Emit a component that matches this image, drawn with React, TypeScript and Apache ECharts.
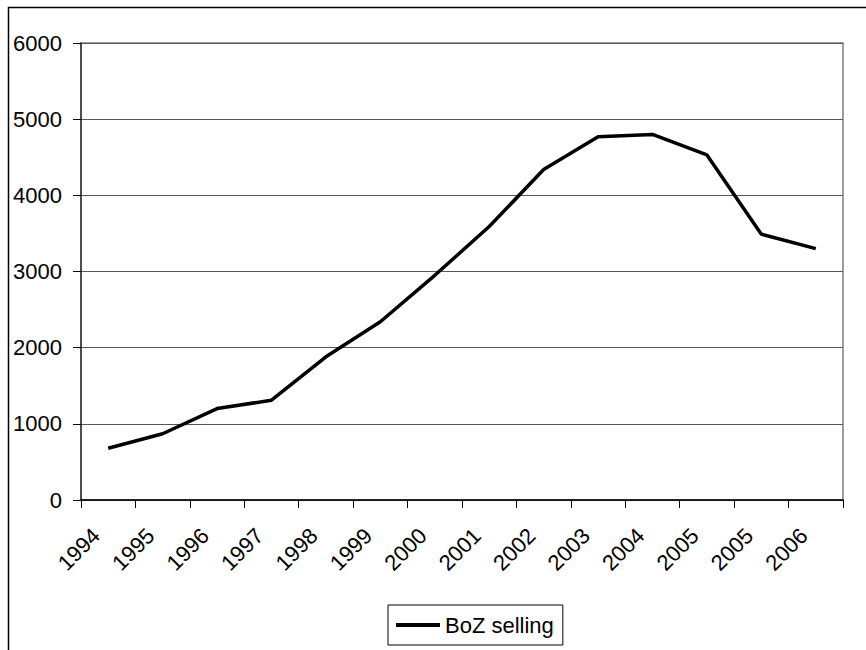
import React, { useEffect, useRef } from "react";
import * as echarts from "echarts";

// Yearly BoZ selling figures
const years = ["1994", "1995", "1996", "1997", "1998", "1999", "2000", "2001", "2002", "2003", "2004", "2005", "2005", "2006"];
const selling = [680, 870, 1200, 1310, 1880, 2340, 2950, 3590, 4340, 4770, 4800, 4530, 3490, 3300];
const seriesName = "BoZ selling";

const FONT = "'Liberation Sans', Arial, sans-serif";

export default function App() {
  const ref = useRef<HTMLDivElement>(null);

  useEffect(() => {
    if (!ref.current) return;
    const chart = echarts.init(ref.current, null, { renderer: "svg" });
    chart.setOption({
      animation: false,
      backgroundColor: "#ffffff",
      textStyle: { fontFamily: FONT },
      grid: {
        left: 81,
        right: 23,
        top: 43,
        bottom: 150,
        show: true,
        borderColor: "#808080",
        borderWidth: 1.5,
        containLabel: false,
      },
      xAxis: {
        type: "category",
        data: years,
        boundaryGap: true,
        axisLine: { lineStyle: { color: "#000", width: 1.5 } },
        axisTick: { show: true, length: 8, lineStyle: { color: "#000" } },
        axisLabel: {
          rotate: 45,
          margin: 20,
          color: "#000",
          fontSize: 22,
          fontFamily: FONT,
          interval: 0,
          // right padding slides each slanted year down-left along its baseline
          padding: [0, 17, 0, 0],
        },
      },
      yAxis: {
        type: "value",
        min: 0,
        max: 6000,
        interval: 1000,
        axisLine: { show: true, lineStyle: { color: "#333", width: 1.5 } },
        axisTick: { show: true, length: 8, lineStyle: { color: "#000" } },
        axisLabel: {
          margin: 19,
          color: "#000",
          fontSize: 22,
          fontFamily: FONT,
          formatter: (v: number) => String(v),
        },
        splitLine: { lineStyle: { color: "#555", width: 1 } },
      },
      legend: {
        left: 388,
        top: 605,
        orient: "horizontal",
        icon: "rect",
        itemWidth: 44,
        itemHeight: 4,
        padding: [9, 9, 9, 8],
        borderColor: "#000",
        borderWidth: 1,
        textStyle: { color: "#000", fontSize: 22, fontFamily: FONT },
        data: [{ name: seriesName, itemStyle: { color: "#000" } }],
      },
      graphic: [
        {
          type: "rect",
          shape: { x: 8.5, y: 7.5, width: 900, height: 700 },
          style: { fill: "none", stroke: "#000", lineWidth: 1.5 },
          silent: true,
          z: -1,
        },
      ],
      series: [
        {
          name: seriesName,
          type: "line",
          data: selling,
          showSymbol: false,
          symbol: "none",
          lineStyle: { color: "#000", width: 3.5 },
          itemStyle: { color: "#000" },
        },
      ],
    });
    return () => chart.dispose();
  }, []);

  return (
    <div
      ref={ref}
      style={{ position: "fixed", left: 0, top: 0, width: 866, height: 650 }}
    />
  );
}
